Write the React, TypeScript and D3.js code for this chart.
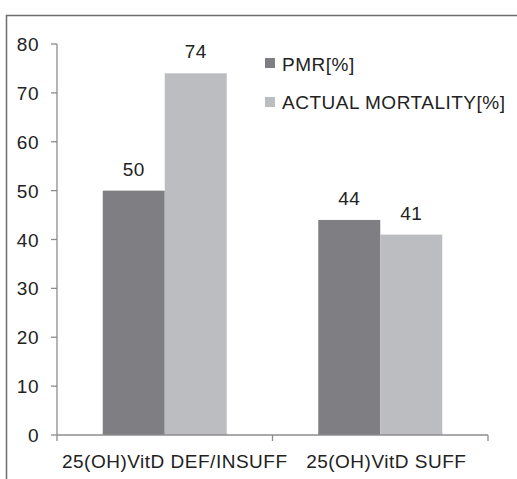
import React from "react";
import * as d3 from "d3";

const categories = ["25(OH)VitD DEF/INSUFF", "25(OH)VitD SUFF"];
const seriesNames = ["PMR[%]", "ACTUAL MORTALITY[%]"];
const pmr = [50, 44];
const actual = [74, 41];
const yTicks = [0, 10, 20, 30, 40, 50, 60, 70, 80];
const colors = ["#7f7f83", "#bcbdc1"];

export default function App() {
  const W = 517, H = 479;
  const x0 = 57, x1 = 488;
  const y = d3.scaleLinear().domain([0, 80]).range([435, 44]);
  const xb = d3.scaleBand().domain(categories).range([x0, x1]).paddingInner(0).paddingOuter(0);
  const xs = d3.scaleBand().domain(seriesNames).range([0, 124]);
  const bw = xb.bandwidth();
  const series = [pmr, actual];
  const font = "Liberation Sans, Arial, sans-serif";
  const fs = 19;
  const ls = 0.5;
  return (
    <svg width={W} height={H} style={{ position: "absolute", left: 0, top: 0 }} fontFamily={font}>
      <rect x={0} y={0} width={W} height={H} fill="#fff" />
      <rect x={6.5} y={15.5} width={W + 10} height={H + 10} fill="none" stroke="#6e6e6e" strokeWidth={1.5} />
      {categories.map((c, i) => {
        const start = (xb(c) as number) + (bw - 124) / 2;
        return series.map((s, k) => (
          <rect key={c + k} x={start + (xs(seriesNames[k]) as number)} width={xs.bandwidth()}
            y={y(s[i])} height={y(0) - y(s[i])} fill={colors[k]} />
        ));
      })}
      {categories.map((c, i) => {
        const start = (xb(c) as number) + (bw - 124) / 2;
        return series.map((s, k) => (
          <text key={"l" + c + k} x={start + (xs(seriesNames[k]) as number) + xs.bandwidth() / 2}
            y={y(s[i]) - 15} textAnchor="middle" fontSize={fs} letterSpacing={ls} fill="#222">{s[i]}</text>
        ));
      })}
      <line x1={x0} x2={x0} y1={y(80)} y2={y(0)} stroke="#8c8c8c" strokeWidth={1.3} />
      <line x1={x0} x2={x1} y1={y(0)} y2={y(0)} stroke="#8c8c8c" strokeWidth={1.3} />
      {yTicks.map((t) => (
        <g key={t}>
          <line x1={x0 - 6} x2={x0} y1={y(t)} y2={y(t)} stroke="#8c8c8c" strokeWidth={1.3} />
          <text x={39} y={y(t) + 7} textAnchor="end" fontSize={fs} letterSpacing={ls} fill="#222">{t}</text>
        </g>
      ))}
      {[x0, ...categories.map((c) => (xb(c) as number) + bw)].map((v, i) => (
        <line key={"xt" + i} x1={v} x2={v} y1={y(0)} y2={y(0) + 6} stroke="#8c8c8c" strokeWidth={1.3} />
      ))}
      {categories.map((c, i) => (
        <text key={"c" + i} x={(xb(c) as number) + bw / 2 + (i === 0 ? 10 : 6)} y={468} textAnchor="middle" fontSize={fs} letterSpacing={ls} fill="#222">{c}</text>
      ))}
      {seriesNames.map((n, k) => (
        <g key={n}>
          <rect x={265} y={58 + k * 39} width={10} height={10} fill={colors[k]} />
          <text x={282} y={71 + k * 38} fontSize={fs} letterSpacing={ls} fill="#222">{n}</text>
        </g>
      ))}
    </svg>
  );
}
